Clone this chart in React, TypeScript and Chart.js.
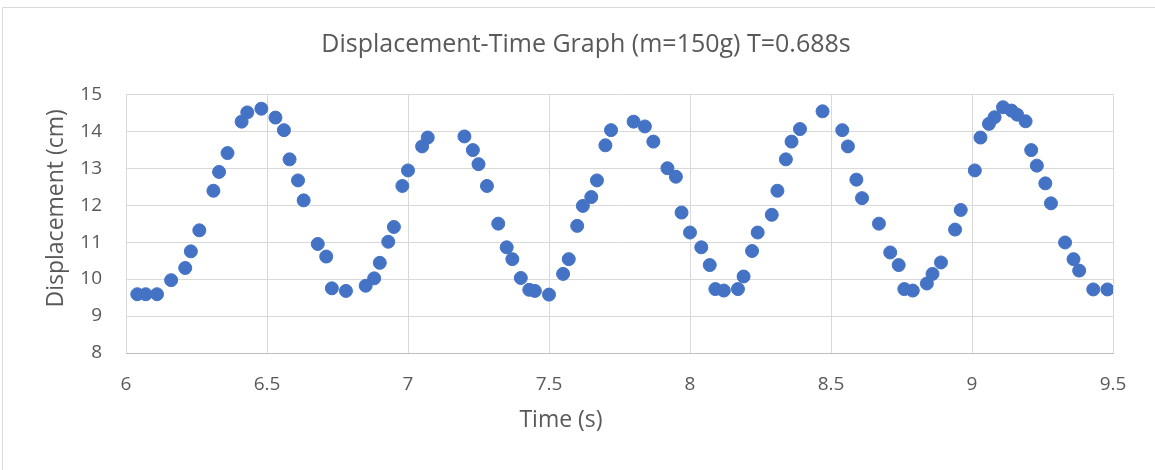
import React, { useEffect, useRef } from "react";
import { Chart, registerables } from "chart.js";

Chart.register(...registerables);

const chartTitle = "Displacement-Time Graph (m=150g) T=0.688s";
const xAxisTitle = "Time (s)";
const yAxisTitle = "Displacement (cm)";

const xTicks = [6, 6.5, 7, 7.5, 8, 8.5, 9, 9.5];
const yTicks = [8, 9, 10, 11, 12, 13, 14, 15];

const timeS = [
  6.04, 6.07, 6.11, 6.16, 6.21, 6.23, 6.26, 6.31, 6.33, 6.36,
  6.41, 6.43, 6.48, 6.53, 6.56, 6.58, 6.61, 6.63, 6.68, 6.71,
  6.73, 6.78, 6.85, 6.88, 6.9, 6.93, 6.95, 6.98, 7.0, 7.05,
  7.07, 7.2, 7.23, 7.25, 7.28, 7.32, 7.35, 7.37, 7.4, 7.43,
  7.45, 7.5, 7.55, 7.57, 7.6, 7.62, 7.65, 7.67, 7.7, 7.72,
  7.8, 7.84, 7.87, 7.92, 7.95, 7.97, 8.0, 8.04, 8.07, 8.09,
  8.12, 8.17, 8.19, 8.22, 8.24, 8.29, 8.31, 8.34, 8.36, 8.39,
  8.47, 8.54, 8.56, 8.59, 8.61, 8.67, 8.71, 8.74, 8.76, 8.79,
  8.84, 8.86, 8.89, 8.94, 8.96, 9.01, 9.03, 9.06, 9.08, 9.11,
  9.14, 9.16, 9.19, 9.21, 9.23, 9.26, 9.28, 9.33, 9.36, 9.38,
  9.43, 9.48,
];

const displacementCm = [
  9.59, 9.59, 9.59, 9.97, 10.3, 10.75, 11.32, 12.39, 12.9, 13.41,
  14.26, 14.51, 14.61, 14.37, 14.03, 13.24, 12.67, 12.13, 10.95, 10.61,
  9.75, 9.68, 9.82, 10.02, 10.44, 11.01, 11.41, 12.52, 12.94, 13.59,
  13.83, 13.86, 13.49, 13.11, 12.52, 11.5, 10.86, 10.54, 10.03, 9.71,
  9.68, 9.58, 10.14, 10.54, 11.44, 11.98, 12.22, 12.67, 13.62, 14.03,
  14.26, 14.13, 13.72, 13.0, 12.77, 11.8, 11.26, 10.86, 10.38, 9.73,
  9.69, 9.73, 10.07, 10.76, 11.26, 11.74, 12.39, 13.24, 13.72, 14.06,
  14.54, 14.03, 13.59, 12.69, 12.19, 11.5, 10.72, 10.38, 9.73, 9.69,
  9.88, 10.14, 10.45, 11.34, 11.87, 12.94, 13.83, 14.2, 14.38, 14.65,
  14.56, 14.45, 14.27, 13.49, 13.07, 12.59, 12.05, 10.99, 10.54, 10.23,
  9.72, 9.72,
];

const FONT = '"Open Sans", "DejaVu Sans", sans-serif';
const TEXT_COLOR = "#595959";

const frameAndTitles = {
  id: "frameAndTitles",
  beforeDraw(chart: any) {
    const ctx = chart.ctx;
    ctx.save();
    ctx.strokeStyle = "#d9d9d9";
    ctx.lineWidth = 1;
    ctx.beginPath();
    ctx.moveTo(2.5, chart.height);
    ctx.lineTo(2.5, 7.5);
    ctx.lineTo(chart.width, 7.5);
    ctx.stroke();
    ctx.restore();
  },
  afterDraw(chart: any) {
    const { ctx, chartArea } = chart;
    ctx.save();
    ctx.fillStyle = TEXT_COLOR;
    ctx.font = `23px ${FONT}`;
    ctx.textAlign = "center";
    ctx.textBaseline = "middle";
    ctx.fillText(xAxisTitle, chartArea.left + 435, chartArea.bottom + 67);
    ctx.translate(chartArea.left - 70, chartArea.top + 114);
    ctx.rotate(-Math.PI / 2);
    ctx.fillText(yAxisTitle, 0, 0);
    ctx.restore();
  },
};

export default function App() {
  const canvasRef = useRef<HTMLCanvasElement | null>(null);

  useEffect(() => {
    if (!canvasRef.current) return;
    const points = timeS.map((t, i) => ({ x: t, y: displacementCm[i] }));
    const chart = new Chart(canvasRef.current, {
      type: "scatter",
      data: {
        datasets: [
          {
            label: "Displacement",
            data: points,
            pointRadius: 6.5,
            pointBorderWidth: 1,
            pointBackgroundColor: "#4472C4",
            pointBorderColor: "#4472C4",
            showLine: false,
          },
        ],
      },
      options: {
        responsive: false,
        animation: false,
        layout: { padding: { left: 59, right: 42, top: 0, bottom: 0 } },
        plugins: {
          legend: { display: false },
          tooltip: { enabled: false },
          title: {
            display: true,
            text: chartTitle,
            color: TEXT_COLOR,
            font: { family: FONT, size: 25, weight: "normal", lineHeight: 1.2 },
            padding: { top: 30, bottom: 34.3 },
          },
        },
        scales: {
          x: {
            type: "linear",
            min: xTicks[0],
            max: xTicks[xTicks.length - 1],
            afterBuildTicks: (scale: any) => {
              scale.ticks = xTicks.map((v) => ({ value: v }));
            },
            afterFit: (scale: any) => {
              scale.height = 117;
            },
            ticks: {
              color: TEXT_COLOR,
              font: { family: FONT, size: 19 },
              padding: 20,
              maxRotation: 0,
              callback: (v: any) => String(Number(v)),
            },
            grid: { color: "#d9d9d9", lineWidth: 1, drawTicks: false },
            border: { display: true, color: "#bfbfbf", width: 1 },
          },
          y: {
            type: "linear",
            min: yTicks[0],
            max: yTicks[yTicks.length - 1],
            afterBuildTicks: (scale: any) => {
              scale.ticks = yTicks.map((v) => ({ value: v }));
            },
            afterFit: (scale: any) => {
              scale.width = 67;
            },
            ticks: {
              color: TEXT_COLOR,
              font: { family: FONT, size: 19 },
              padding: 24,
              callback: (v: any) => String(Number(v)),
            },
            grid: { color: "#d9d9d9", lineWidth: 1, drawTicks: false },
            border: { display: false },
          },
        },
      },
      plugins: [frameAndTitles],
    });
    return () => chart.destroy();
  }, []);

  return (
    <div style={{ position: "absolute", left: 0, top: 0, width: 1155, height: 470, background: "#fff" }}>
      <canvas ref={canvasRef} width={1155} height={470} style={{ display: "block" }} />
    </div>
  );
}
